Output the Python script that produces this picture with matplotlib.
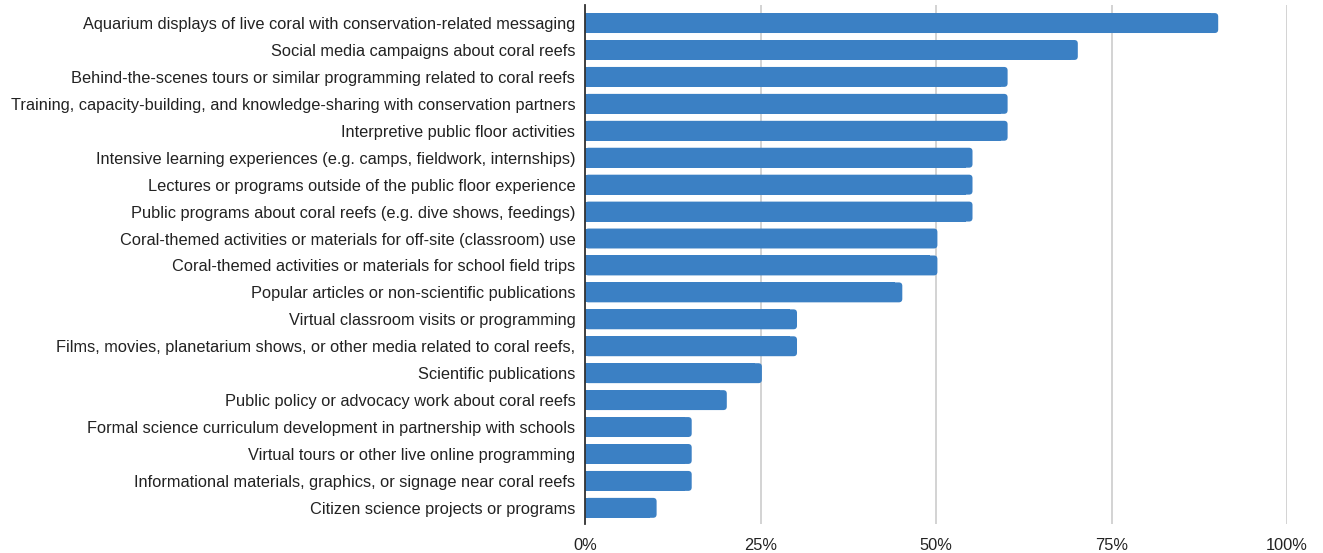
import matplotlib
matplotlib.use("Agg")
import matplotlib.pyplot as plt
from matplotlib.patches import FancyBboxPatch, Rectangle

categories = [
    "Aquarium displays of live coral with conservation-related messaging",
    "Social media campaigns about coral reefs",
    "Behind-the-scenes tours or similar programming related to coral reefs",
    "Training, capacity-building, and knowledge-sharing with conservation partners",
    "Interpretive public floor activities",
    "Intensive learning experiences (e.g. camps, fieldwork, internships)",
    "Lectures or programs outside of the public floor experience",
    "Public programs about coral reefs (e.g. dive shows, feedings)",
    "Coral-themed activities or materials for off-site (classroom) use",
    "Coral-themed activities or materials for school field trips",
    "Popular articles or non-scientific publications",
    "Virtual classroom visits or programming",
    "Films, movies, planetarium shows, or other media related to coral reefs,",
    "Scientific publications",
    "Public policy or advocacy work about coral reefs",
    "Formal science curriculum development in partnership with schools",
    "Virtual tours or other live online programming",
    "Informational materials, graphics, or signage near coral reefs",
    "Citizen science projects or programs",
]
values = [90, 70, 60, 60, 60, 55, 55, 55, 50, 50, 45, 30, 30, 25, 20, 15, 15, 15, 10]
xticks = [0, 25, 50, 75, 100]
xtick_labels = ["0%", "25%", "50%", "75%", "100%"]

plt.rcParams['font.family'] = ['Liberation Sans', 'DejaVu Sans']

fig = plt.figure(figsize=(13.23, 5.53), dpi=100)
ax = fig.add_axes([585/1323, 1-524/553, (1287-585)/1323, (524-5)/553])

color = "#3b80c4"
h = 0.74
ypos = list(range(len(categories)))
bars = ax.barh(ypos, values, height=h, color=color, alpha=0)

ax.set_xlim(0, 100)
ax.set_ylim(18.6, -0.67)

px_x = 100 / (1287 - 585)
px_y = (18.6 + 0.67) / (524 - 5)
r_px = 3.5
for b in bars:
    x0, y0, w, hh = b.get_x(), b.get_y(), b.get_width() + 0.2, b.get_height()
    ax.add_patch(Rectangle((x0, y0), w - 2 * r_px * px_x, hh, color=color, lw=0, zorder=2))
    ax.add_patch(FancyBboxPatch((x0, y0), w, hh,
                                boxstyle=f"round,pad=0,rounding_size={r_px*px_x}",
                                mutation_aspect=px_y / px_x,
                                color=color, lw=0, zorder=2))

ax.set_yticks(ypos)
ax.set_yticklabels(categories, fontsize=11.8, color="#222222")
ax.set_xticks(xticks)
ax.set_xticklabels(xtick_labels, fontsize=11.8, color="#222222")
ax.tick_params(axis='both', length=0)
ax.tick_params(axis='y', pad=7)
ax.tick_params(axis='x', pad=10)

ax.xaxis.grid(True, color="#d0d0d0", lw=1.3)
ax.set_axisbelow(True)
for s in ["top", "right", "bottom"]:
    ax.spines[s].set_visible(False)
ax.spines["left"].set_color("#333333")
ax.spines["left"].set_linewidth(1.3)
ax.spines["left"].set_zorder(3)

fig.savefig("out.png", dpi=100)
